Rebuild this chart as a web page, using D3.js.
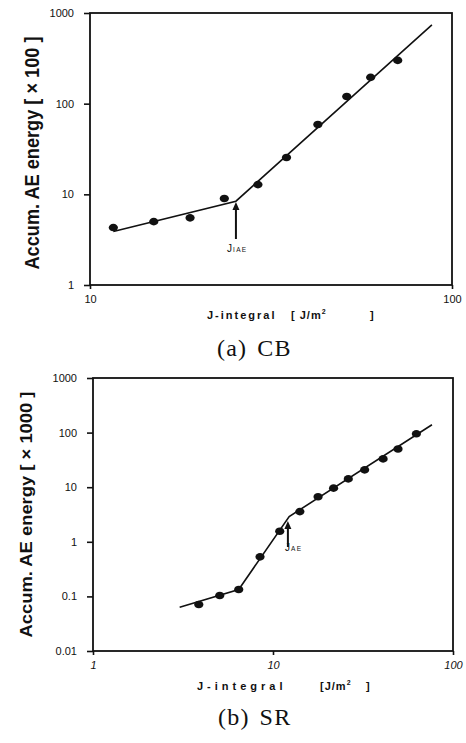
<!DOCTYPE html>
<html>
<head>
<meta charset="utf-8">
<script src="https://cdn.jsdelivr.net/npm/d3@7"></script>
<style>
  body { margin: 0; background: #fff; }
  svg { display: block; }
  .tick text { font-family: "Liberation Sans", Arial, sans-serif; font-size: 11px; fill: #111; }
  .tick line { stroke: #111; stroke-width: 1.6; }
</style>
</head>
<body>
<div id="chart"></div>
<script>
const w = 466,
      h = 743;

// (a) CB panel
const cbJ = [11.6, 15.0, 18.9, 23.5, 29.1, 34.9, 42.6, 51.2, 59.6, 70.8];
const cbEnergy = [4.3, 5.0, 5.5, 9.0, 12.8, 25.5, 59, 120, 195, 300];
const cbFitJ = [11.6, 25.3, 88];
const cbFitEnergy = [3.9, 8.4, 740];
const cbXTicks = [10, 100];
const cbYTicks = [1, 10, 100, 1000];

// (b) SR panel
const srJ = [3.87, 5.06, 6.45, 8.47, 10.9, 14.1, 17.8, 21.7, 26.2, 32.3, 40.9, 49.5, 62.6];
const srEnergy = [0.071, 0.104, 0.134, 0.53, 1.56, 3.57, 6.7, 9.6, 14.2, 20.8, 33, 50, 95];
const srFitJ = [3.03, 6.45, 12.3, 76.4];
const srFitEnergy = [0.063, 0.134, 2.9, 139];
const srXTicks = [1, 10, 100];
const srYTicks = [0.01, 0.1, 1, 10, 100, 1000];

const svg = d3.select('#chart').append('svg')
              .attr('width', w)
              .attr('height', h);

const fmt = d => (d < 1 ? String(d) : d3.format('d')(d));

const drawPanel = p => {
    const x = d3.scaleLog().domain(p.xDomain).range([p.left, p.right]);
    const y = d3.scaleLog().domain(p.yDomain).range([p.bottom, p.top]);
    const g = svg.append('g');

    // frame
    g.append('rect')
     .attr('x', p.left).attr('y', p.top)
     .attr('width', p.right - p.left).attr('height', p.bottom - p.top)
     .attr('fill', 'none').attr('stroke', '#111').attr('stroke-width', 1.8);

    const yAxis = d3.axisLeft(y).tickValues(p.yTicks).tickFormat(fmt).tickSize(6).tickPadding(10);
    g.append('g').attr('transform', `translate(${p.left},0)`).call(yAxis)
     .call(a => a.select('.domain').remove());

    const xAxis = d3.axisBottom(x).tickValues(p.xTicks).tickFormat(fmt).tickSize(4).tickPadding(p.xPad);
    g.append('g').attr('transform', `translate(0,${p.bottom})`).call(xAxis)
     .call(a => a.select('.domain').remove())
     .call(a => a.selectAll('text').style('font-style', p.xItalic ? 'italic' : 'normal'));

    // fitted line
    const line = d3.line().x(d => x(d[0])).y(d => y(d[1]));
    g.append('path')
     .datum(p.fitJ.map((v, i) => [v, p.fitE[i]]))
     .attr('d', line)
     .attr('fill', 'none').attr('stroke', '#111').attr('stroke-width', 1.6);

    // measured points
    g.selectAll('ellipse.pt')
     .data(p.J.map((v, i) => [v, p.E[i]]))
     .enter().append('ellipse')
     .attr('class', 'pt')
     .attr('cx', d => x(d[0])).attr('cy', d => y(d[1]))
     .attr('rx', 4.6).attr('ry', 3.8)
     .attr('fill', '#111');

    // J_AE arrow
    const ax = x(p.arrowJ);
    g.append('line')
     .attr('x1', ax).attr('x2', ax)
     .attr('y1', p.arrowY0).attr('y2', p.arrowY1 + 6)
     .attr('stroke', '#111').attr('stroke-width', 2);
    g.append('path')
     .attr('d', `M${ax - 3.5},${p.arrowY1 + 8} L${ax},${p.arrowY1} L${ax + 3.5},${p.arrowY1 + 8} Z`)
     .attr('fill', '#111');
    const lbl = g.append('text')
     .attr('x', ax + p.lblDx).attr('y', p.arrowY0 + p.lblDy)
     .style('font-family', '"Liberation Sans", Arial, sans-serif')
     .style('font-size', '10px').attr('fill', '#111');
    lbl.append('tspan').text('J');
    lbl.append('tspan').attr('dx', 1).style('font-size', '6.5px').attr('letter-spacing', 1.4).text(p.sub);

    // y title
    g.append('text')
     .attr('transform', `translate(${p.yTitleX},${(p.top + p.bottom) / 2 + p.yTitleDy}) rotate(-90)`)
     .attr('text-anchor', 'middle')
     .attr('textLength', p.yTitleLen).attr('lengthAdjust', 'spacingAndGlyphs')
     .style('font-family', '"Liberation Sans", Arial, sans-serif')
     .style('font-weight', 'bold').style('font-size', p.yTitleSize + 'px')
     .attr('fill', '#111')
     .text(p.yTitle);

    // x title
    const xt = g.append('text')
     .attr('y', p.xTitleY)
     .style('font-family', '"Liberation Sans", Arial, sans-serif')
     .style('font-weight', 'bold').style('font-size', '11px')
     .attr('fill', '#111');
    xt.append('tspan').attr('x', p.xTitleX).attr('letter-spacing', p.xSpacing).text('J-integral');
    xt.append('tspan').attr('x', p.unitX).attr('letter-spacing', 1).text(p.unitOpen);
    xt.append('tspan').attr('dy', -5).style('font-size', '7px').text('2');
    xt.append('tspan').attr('dy', 5).attr('x', p.unitCloseX).text(']');

    // caption
    const cap = g.append('text')
     .attr('y', p.capY)
     .style('font-family', '"Liberation Serif", "Times New Roman", serif')
     .style('font-size', '24px').attr('fill', '#111')
     .attr('letter-spacing', 1.2);
    cap.append('tspan').attr('x', p.capX).text(p.capTag);
    cap.append('tspan').attr('dx', 10).text(p.capName);
};

drawPanel({
    left: 90, right: 452, top: 13, bottom: 285,
    xDomain: [10, 100], yDomain: [1, 1000],
    xTicks: cbXTicks, yTicks: cbYTicks, xPad: 6, xItalic: false,
    J: cbJ, E: cbEnergy, fitJ: cbFitJ, fitE: cbFitEnergy,
    arrowJ: 25.3, arrowY0: 239, arrowY1: 202, lblDx: -9, lblDy: 13, sub: 'IAE',
    yTitle: 'Accum. AE energy [ \u00d7 100 ]', yTitleX: 39, yTitleDy: 4, yTitleLen: 233, yTitleSize: 21,
    xTitleX: 207, xTitleY: 319, xSpacing: 2, unitX: 291, unitOpen: '[ J/m', unitCloseX: 370,
    capTag: '(a)', capName: 'CB', capX: 217, capY: 356
});

drawPanel({
    left: 93, right: 453, top: 378, bottom: 651,
    xDomain: [1, 100], yDomain: [0.01, 1000],
    xTicks: srXTicks, yTicks: srYTicks, xPad: 6, xItalic: true,
    J: srJ, E: srEnergy, fitJ: srFitJ, fitE: srFitEnergy,
    arrowJ: 12.1, arrowY0: 547, arrowY1: 521, lblDx: -3, lblDy: 4, sub: 'AE',
    yTitle: 'Accum. AE energy [ \u00d7 1000 ]', yTitleX: 32, yTitleDy: 0, yTitleLen: 246, yTitleSize: 17,
    xTitleX: 197, xTitleY: 690, xSpacing: 4, unitX: 320, unitOpen: '[J/m', unitCloseX: 366,
    capTag: '(b)', capName: 'SR', capX: 218, capY: 725
});
</script>
</body>
</html>
